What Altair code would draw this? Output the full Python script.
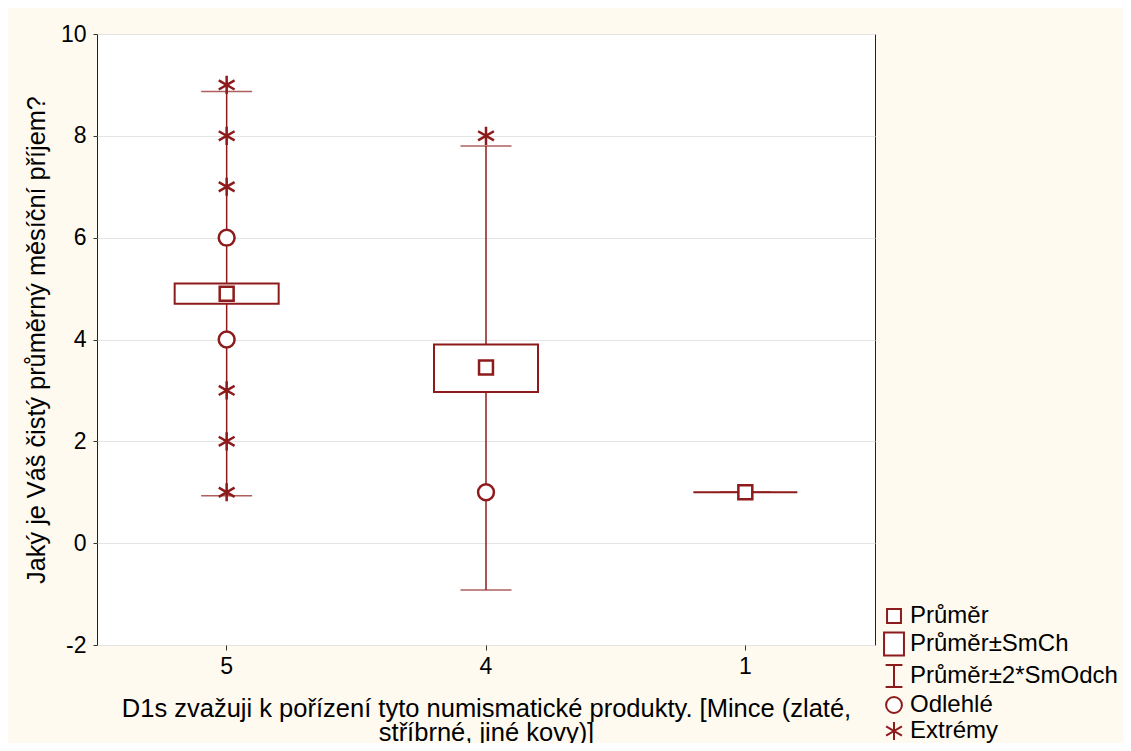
import altair as alt
import pandas as pd

# ---- data ----
groups = ["5", "4", "1"]
means = [4.9, 3.45, 1.0]
box_lo = [4.7, 2.97, 1.0]
box_hi = [5.1, 3.9, 1.0]
whisk_lo = [0.93, -0.92, 1.0]
whisk_hi = [8.87, 7.8, 1.0]

outlier_groups = ["5", "5", "4"]
outlier_values = [4, 6, 1]

extreme_groups = ["5", "5", "5", "5", "5", "5", "4"]
extreme_values = [1, 2, 3, 7, 8, 9, 8]

y_ticks = [-2, 0, 2, 4, 6, 8, 10]

legend_labels = ["Průměr", "Průměr±SmCh", "Průměr±2*SmOdch", "Odlehlé", "Extrémy"]

y_title = "Jaký je Váš čistý průměrný měsíční příjem?"
x_title = ["D1s zvažuji k pořízení tyto numismatické produkty. [Mince (zlaté,",
           "stříbrné, jiné kovy)]"]

# ---- styling ----
RED = "#8E1B1B"
FONT = "Liberation Sans"
shape_paths = [
    "M-0.58,-0.58H0.58V0.58H-0.58Z",
    "M-0.83,-0.96H0.83V0.96H-0.83Z",
    "M-0.7,-0.92H0.7M0,-0.92V0.92M-0.7,0.92H0.7",
    "M0.66,0A0.66,0.66,0,1,1,-0.66,0A0.66,0.66,0,1,1,0.66,0Z",
    "M0,-0.76V0.76M-0.66,-0.38L0.66,0.38M-0.66,0.38L0.66,-0.38",
]

summary = pd.DataFrame({
    "grp": groups, "mean": means, "box_lo": box_lo, "box_hi": box_hi,
    "w_lo": whisk_lo, "w_hi": whisk_hi,
})

pts = pd.concat([
    pd.DataFrame({"grp": groups, "val": means, "kind": "Průměr"}),
    pd.DataFrame({"grp": outlier_groups, "val": outlier_values, "kind": "Odlehlé"}),
    pd.DataFrame({"grp": extreme_groups, "val": extreme_values, "kind": "Extrémy"}),
], ignore_index=True)

x_enc = alt.X("grp:N", sort=groups, scale=alt.Scale(domain=groups),
              axis=alt.Axis(title=x_title, labelAngle=0, domain=False, ticks=True,
                            tickSize=5, tickColor="#333", labelPadding=5,
                            titlePadding=18, titleLineHeight=24, titleFontSize=25.5,
                            grid=False))
y_scale = alt.Scale(domain=[-2, 10], nice=False, zero=False)
y_axis = alt.Axis(title=y_title, values=y_ticks, domain=False, tickSize=4,
                  tickColor="#333", labelPadding=7, titlePadding=11, titleFontSize=25.3,
                  labelExpr="'' + datum.value",
                  grid=True, gridColor="#E4E4E4", gridWidth=1)

base = alt.Chart(summary)

whisker = base.mark_rule(color=RED, strokeWidth=1.5).encode(
    x=x_enc,
    y=alt.Y("w_lo:Q", scale=y_scale, axis=y_axis),
    y2="w_hi:Q",
)
cap_lo = base.mark_tick(color=RED, size=51, thickness=1.5).encode(
    x=x_enc, y=alt.Y("w_lo:Q", scale=y_scale, axis=y_axis))
cap_hi = base.mark_tick(color=RED, size=51, thickness=1.5).encode(
    x=x_enc, y=alt.Y("w_hi:Q", scale=y_scale, axis=y_axis))
box = base.mark_bar(size=104, fill="white", stroke=RED, strokeWidth=2).encode(
    x=x_enc, y=alt.Y("box_lo:Q", scale=y_scale, axis=y_axis), y2="box_hi:Q")

points = alt.Chart(pts).mark_point(filled=False, fill="white", stroke=RED, color=RED,
                                   strokeWidth=2.5, size=576, opacity=1).encode(
    x=x_enc,
    y=alt.Y("val:Q", scale=y_scale, axis=y_axis),
    shape=alt.Shape("kind:N", scale=alt.Scale(domain=legend_labels, range=shape_paths),
                    legend=alt.Legend(title=None, orient="none", legendX=784, legendY=569,
                                      labelFont=FONT, labelFontSize=24, labelColor="black",
                                      labelLimit=400, symbolSize=576, symbolStrokeWidth=2,
                                      rowPadding=0, labelOffset=3, padding=0)),
)

chart = alt.layer(whisker, cap_lo, cap_hi, box, points).properties(
    width=778, height=611,
    autosize=alt.AutoSizeParams(type="none"),
    padding={"left": 89, "top": 26, "right": 248, "bottom": 98},
    background="#FFFAF0",
).configure_view(
    fill="white", stroke="#222", strokeWidth=1,
).configure_axis(
    labelFont=FONT, labelFontSize=23, labelColor="black",
    titleFont=FONT, titleFontSize=25, titleFontWeight="normal", titleColor="black",
)

chart.save("out.html", embed_options={"renderer": "svg", "actions": False})
